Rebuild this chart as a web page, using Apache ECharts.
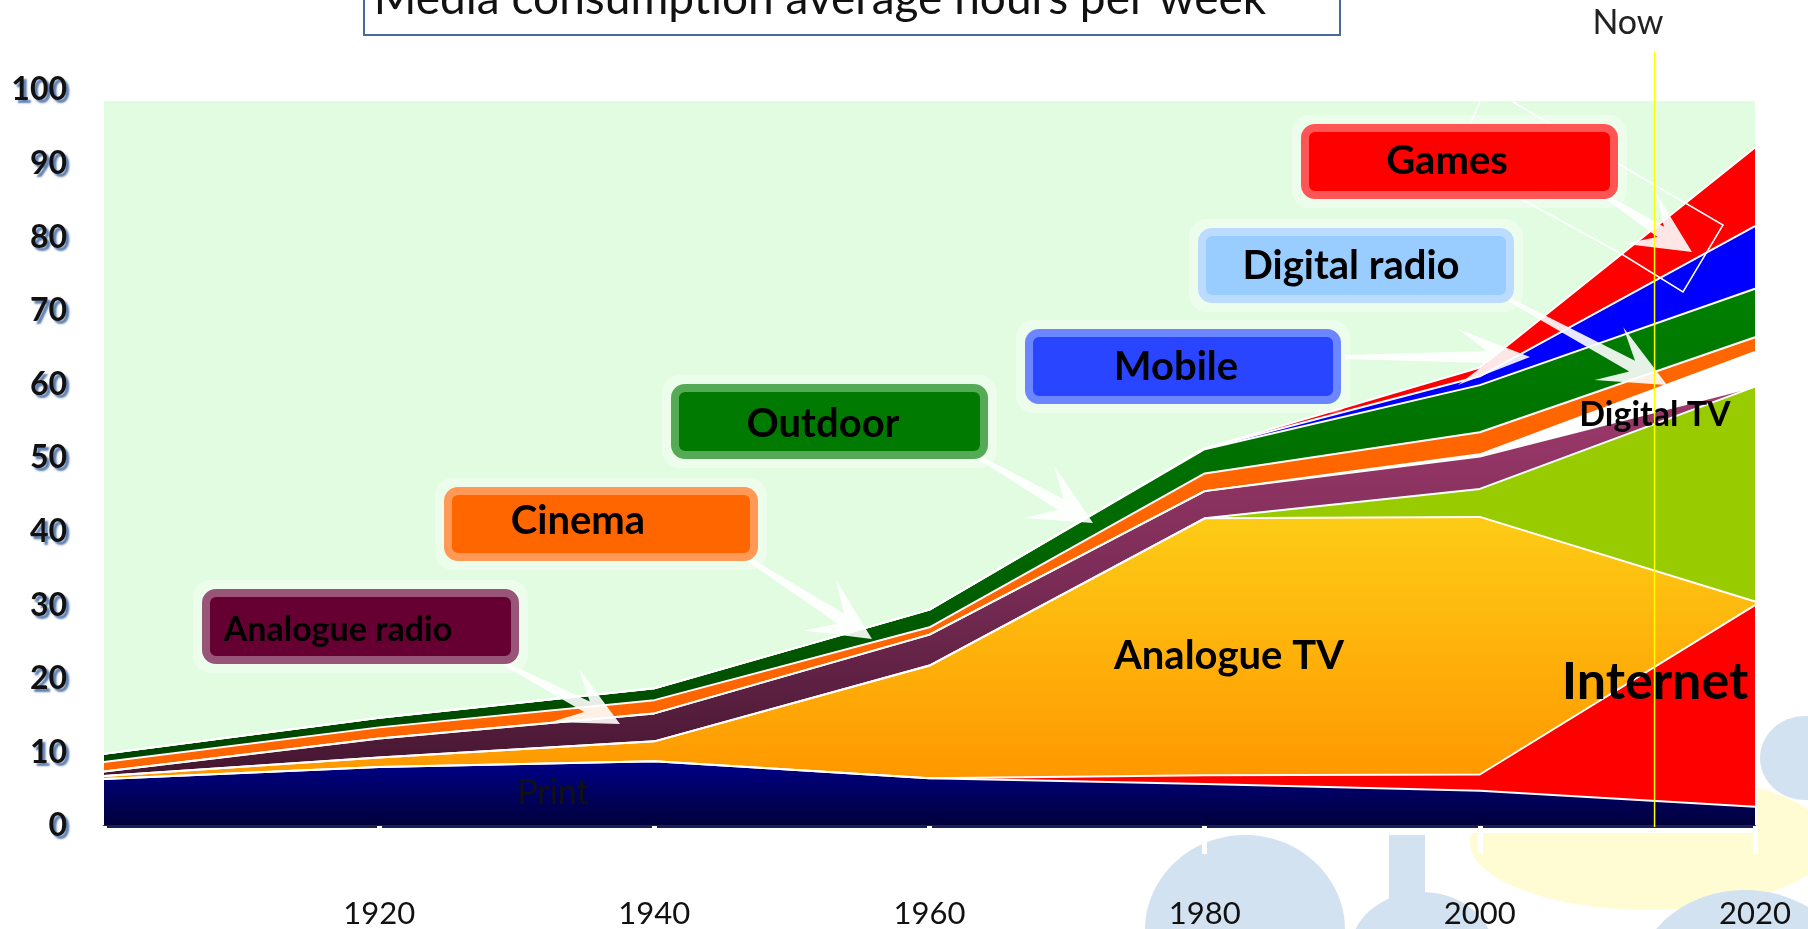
<!DOCTYPE html>
<html>
<head>
<meta charset="utf-8">
<title>Media consumption average hours per week</title>
<script src="https://cdn.jsdelivr.net/npm/echarts@6/dist/echarts.min.js"></script>
<style>
  html, body { margin: 0; padding: 0; background: #ffffff; }
  #chart { width: 1808px; height: 929px; }
</style>
</head>
<body>
<div id="chart"></div>
<script>
// hours per week, stacked bottom to top
const years = ['1900', '1920', '1940', '1960', '1980', '2000', '2020'];
const printHours     = [6.4, 8.0, 8.8, 6.5, 5.7, 4.8, 2.6];
const internetHours  = [0, 0, 0, 0, 1.2, 2.2, 27.4];
const analogueTv     = [0.4, 1.3, 2.7, 15.3, 34.9, 35.0, 0.5];
const digitalTv      = [0, 0, 0, 0, 0, 3.8, 29.2];
const analogueRadio  = [0.6, 2.6, 3.8, 4.2, 3.7, 4.4, 0];
const digitalRadio   = [0, 0, 0, 0, 0, 0.3, 4.7];
const cinemaHours    = [1.3, 1.5, 1.8, 1.0, 2.4, 3.0, 2.0];
const outdoorHours   = [1.1, 1.3, 1.6, 2.4, 3.3, 6.4, 6.6];
const mobileHours    = [0, 0, 0, 0, 0.1, 1.2, 8.5];
const gamesHours     = [0, 0, 0, 0, 0, 1.2, 10.7];

const yTicks = { min: 0, max: 100, step: 10 };
const NOW_YEAR = 2012.7;

const chart = echarts.init(document.getElementById('chart'));

function grad(stops) {
  return new echarts.graphic.LinearGradient(0, 0, 0, 1,
    stops.map((c, i) => ({ offset: i / (stops.length - 1), color: c })));
}

function layer(name, values, color) {
  return {
    name: name,
    type: 'line',
    stack: 'media',
    symbol: 'none',
    data: values,
    lineStyle: { color: '#ffffff', width: 2 },
    areaStyle: { color: color, opacity: 1 },
    emphasis: { disabled: true },
  };
}

const option = {
  animation: false,
  grid: { left: 104, right: 53, top: 90, bottom: 102 },
  xAxis: [
    {
      type: 'category',
      data: years,
      boundaryGap: false,
      offset: 8,
      z: 5,
      axisLine: { lineStyle: { color: '#1a1f5c', width: 3 } },
      axisTick: { show: true, length: 28, lineStyle: { color: '#ffffff', width: 5 } },
      axisLabel: {
        margin: 64,
        fontFamily: 'Lato',
        fontSize: 31,
        color: '#111111',
        formatter: (v) => (v === '1900' ? '' : v),
      },
    },
    // hidden twin axis, only used to place the "now" marker
    { type: 'value', min: 1900, max: 2020, show: false },
  ],
  yAxis: {
    type: 'value',
    min: yTicks.min,
    max: yTicks.max,
    interval: yTicks.step,
    splitLine: { show: false },
    axisLine: { show: false },
    axisTick: { show: false },
    axisLabel: {
      margin: 37,
      fontFamily: 'Lato',
      fontWeight: 'bold',
      fontSize: 32,
      color: '#111111',
      textShadowColor: '#5b7db0',
      textShadowBlur: 2,
      textShadowOffsetX: 3,
      textShadowOffsetY: 3,
    },
  },
  series: [
    layer('Print', printHours, grad(['#000088', '#00003a'])),
    layer('Internet', internetHours, '#ff0000'),
    layer('Analogue TV', analogueTv, grad(['#fdcc16', '#ff9800'])),
    layer('Digital TV', digitalTv, '#99cc00'),
    layer('Analogue radio', analogueRadio, grad(['#a03a6e', '#7a2c56', '#441630'])),
    layer('Digital radio', digitalRadio, '#ffffff'),
    layer('Cinema', cinemaHours, '#ff6600'),
    layer('Outdoor', outdoorHours, grad(['#008000', '#006a00', '#004400'])),
    layer('Mobile', mobileHours, '#0000ff'),
    layer('Games', gamesHours, '#ff0000'),
  ],
};

chart.setOption(option);

// ---- annotations (slide decoration, callouts, arrows) ----
function txt(text, x, y, size, weight, color, z) {
  return {
    type: 'text', z: z || 12,
    style: {
      text: text, x: x, y: y,
      fontFamily: 'Lato', fontSize: size, fontWeight: weight || 'normal',
      fill: color || '#000000',
      align: 'center', verticalAlign: 'middle',
      textAlign: 'center', textVerticalAlign: 'middle',
    },
  };
}

function callout(label, box, center, size, fill, stroke) {
  return [
    {
      type: 'rect', z: 11,
      shape: { x: box[0] - 9, y: box[1] - 9, width: box[2] + 18, height: box[3] + 18, r: 18 },
      style: { fill: 'rgba(255,255,255,0.35)' },
    },
    {
      type: 'rect', z: 11,
      shape: { x: box[0] + 4, y: box[1] + 4, width: box[2] - 8, height: box[3] - 8, r: 10 },
      style: { fill: fill, stroke: stroke, lineWidth: 8 },
    },
    txt(label, center[0], center[1], size, 'bold', '#000000', 12),
  ];
}

function arrow(from, to, headLen, headW) {
  const dx = to[0] - from[0], dy = to[1] - from[1];
  const len = Math.hypot(dx, dy);
  const ux = dx / len, uy = dy / len, nx = -uy, ny = ux;
  const bx = to[0] - ux * headLen, by = to[1] - uy * headLen;
  const jx = to[0] - ux * headLen * 0.6, jy = to[1] - uy * headLen * 0.6;
  return {
    type: 'polygon', z: 10,
    shape: { points: [
      [from[0] + nx * 2, from[1] + ny * 2],
      [jx + nx * 6, jy + ny * 6],
      [bx + nx * headW / 2, by + ny * headW / 2],
      [to[0], to[1]],
      [bx - nx * headW / 2, by - ny * headW / 2],
      [jx - nx * 6, jy - ny * 6],
      [from[0] - nx * 2, from[1] - ny * 2],
    ] },
    style: { fill: 'rgba(255,255,255,0.9)' },
  };
}

const blue = '#d3e2f1';
const nowX = chart.convertToPixel({ xAxisIndex: 1 }, NOW_YEAR);

const elements = [
  // slide background shapes
  { type: 'ellipse', z: 0, shape: { cx: 1650, cy: 842, rx: 180, ry: 68 }, style: { fill: '#fffbd2' } },
  { type: 'ellipse', z: 0, shape: { cx: 1245, cy: 930, rx: 100, ry: 95 }, style: { fill: blue } },
  { type: 'rect', z: 0, shape: { x: 1389, y: 835, width: 36, height: 70 }, style: { fill: blue } },
  { type: 'ellipse', z: 0, shape: { cx: 1422, cy: 952, rx: 72, ry: 60 }, style: { fill: blue } },
  { type: 'ellipse', z: 0, shape: { cx: 1745, cy: 985, rx: 110, ry: 95 }, style: { fill: blue } },
  { type: 'ellipse', z: 0, shape: { cx: 1805, cy: 758, rx: 45, ry: 42 }, style: { fill: blue } },
  { type: 'rect', z: 0, shape: { x: 0, y: 0, width: 1757, height: 833 }, style: { fill: '#ffffff' } },
  // plot background
  { type: 'rect', z: 0, shape: { x: 104, y: 101, width: 1651, height: 725 }, style: { fill: '#e2fce2' } },

  // title box, cut at the top of the slide
  { type: 'rect', z: 12, shape: { x: 364, y: -10, width: 976, height: 45 },
    style: { fill: '#ffffff', stroke: '#4a6a9a', lineWidth: 2 } },
  txt('Media consumption average hours per week', 820, -1, 46, 'normal', '#111111', 13),
  txt('Now', 1628, 23, 34, 'normal', '#222222', 13),

  // thin white outline near the games corner
  { type: 'polyline', z: 10,
    shape: { points: [[1480, 102], [1470, 124]] },
    style: { stroke: '#ffffff', lineWidth: 1.5, fill: null } },
  { type: 'polyline', z: 10,
    shape: { points: [[1513, 102], [1723, 225], [1683, 292], [1620, 253], [1523, 200]] },
    style: { stroke: '#ffffff', lineWidth: 1.5, fill: null } },

  arrow([505, 664], [620, 724], 62, 60),
  arrow([745, 557], [872, 639], 62, 60),
  arrow([980, 458], [1093, 523], 62, 60),
  arrow([1345, 357], [1530, 357], 72, 56),
  arrow([1510, 300], [1667, 385], 66, 60),
  arrow([1605, 196], [1692, 252], 62, 60),

  ...callout('Analogue radio', [202, 589, 317, 75], [338, 630], 34, '#660033', '#995577'),
  ...callout('Cinema', [444, 487, 314, 74], [578, 521], 40, '#ff6600', '#ff9955'),
  ...callout('Outdoor', [671, 384, 317, 75], [823, 424], 40, '#007a00', '#55aa55'),
  ...callout('Mobile', [1025, 329, 316, 75], [1176, 367], 40, '#2a45ff', '#6b86ff'),
  ...callout('Digital radio', [1198, 228, 316, 75], [1351, 266], 40, '#99ccff', '#bbdcff'),
  ...callout('Games', [1301, 124, 317, 75], [1447, 161], 40, '#ff0000', '#ff5555'),

  // labels inside the stack
  txt('Print', 553, 793, 34, 'normal', '#111111', 12),
  txt('Analogue TV', 1229, 656, 40, 'bold', '#000000', 12),
  txt('Internet', 1655, 682, 52, 'bold', '#000000', 12),
  txt('Digital TV', 1655, 415, 34, 'bold', '#000000', 12),

  // "now" marker
  { type: 'line', z: 20, shape: { x1: nowX, y1: 52, x2: nowX, y2: 827 },
    style: { stroke: '#ffff00', lineWidth: 1.5 } },
];

chart.setOption({ graphic: { elements: elements } });
</script>
</body>
</html>
